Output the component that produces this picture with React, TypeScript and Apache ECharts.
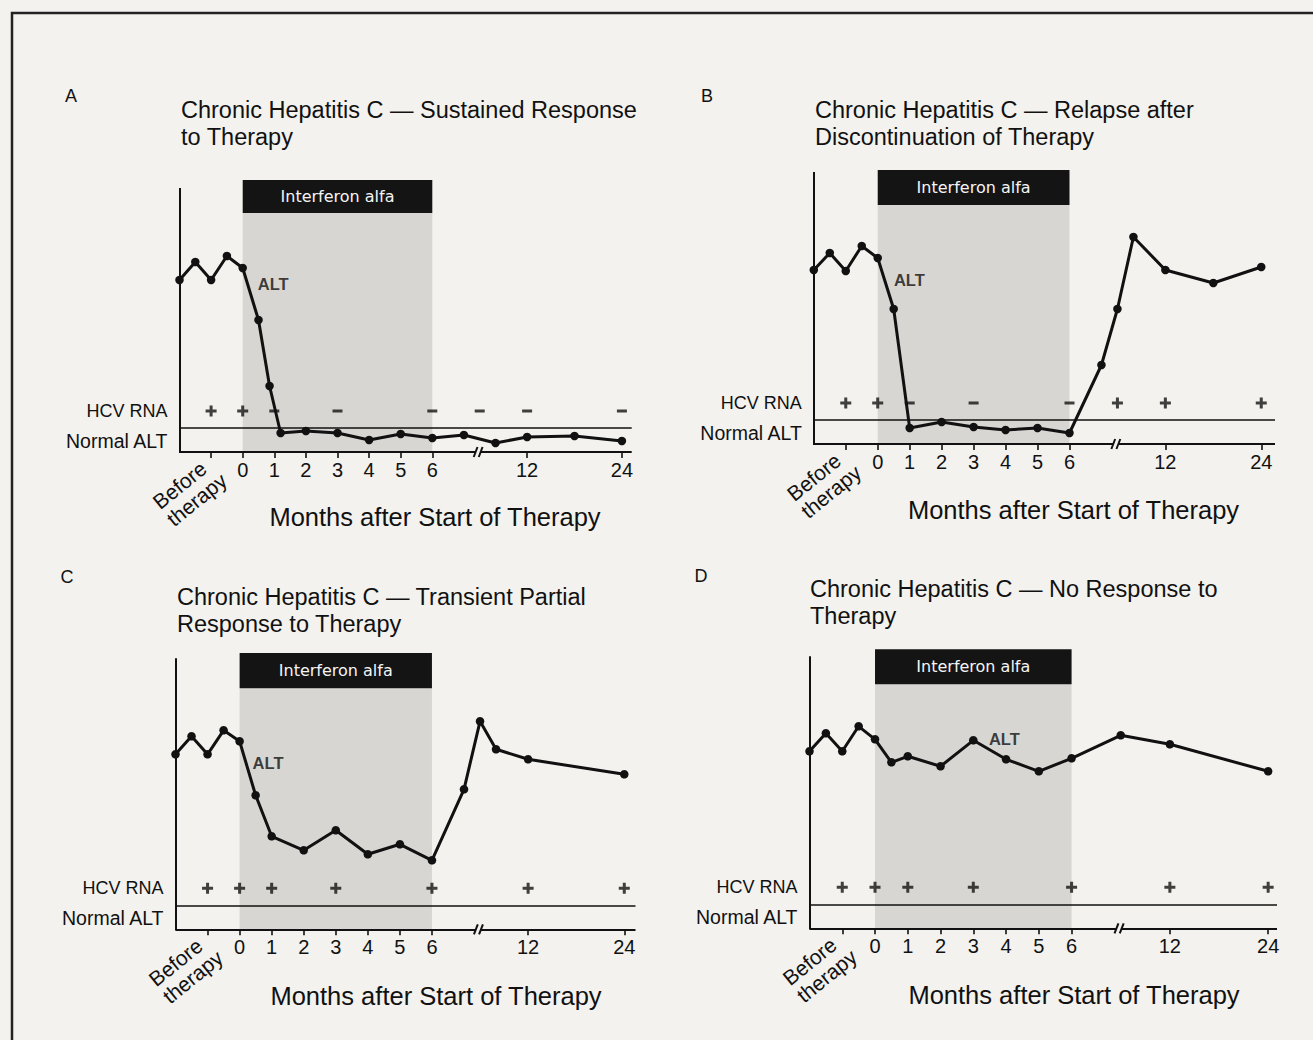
import React, { useEffect, useRef } from 'react';
import * as echarts from 'echarts';

// ---------- data ----------
const panelLetters = ['A', 'B', 'C', 'D'];
const titleLines = [
  ['Chronic Hepatitis C — Sustained Response', 'to Therapy'],
  ['Chronic Hepatitis C — Relapse after', 'Discontinuation of Therapy'],
  ['Chronic Hepatitis C — Transient Partial', 'Response to Therapy'],
  ['Chronic Hepatitis C — No Response to', 'Therapy'],
];
const tickValues = [0, 1, 2, 3, 4, 5, 6, 9, 12];
const tickLabels = ['0', '1', '2', '3', '4', '5', '6', '12', '24'];
const tickMarks = [-1, 0, 1, 2, 3, 4, 5, 6, 9, 12];
const beforeLabel = 'Before\ntherapy';
const xAxisTitle = 'Months after Start of Therapy';
const therapyLabel = 'Interferon alfa';
const therapyStart = 0;
const therapyEnd = 6;
const hcvLabel = 'HCV RNA';
const normalLabel = 'Normal ALT';
const normalAlt = 24;
const hcvRow = 41;
const normalLabelRow = 11.5;
const breakAt = 7.45;
const altLabel = 'ALT';

// ALT (arbitrary units) per panel
const altXA = [-2, -1.5, -1, -0.5, 0, 0.5, 0.85, 1.2, 2, 3, 4, 5, 6, 7, 8, 9, 10.5, 12];
const altYA = [172, 190, 172, 196, 184, 132, 66, 19, 21, 19, 12, 18, 14, 17, 9, 15, 16, 11];
const altXB = [-2, -1.5, -1, -0.5, 0, 0.5, 1, 2, 3, 4, 5, 6, 7, 7.5, 8, 9, 10.5, 12];
const altYB = [174, 191, 173, 198, 186, 135, 16, 22, 17, 14, 16, 11, 79, 135, 207, 174, 161, 177];
const altXC = [-2, -1.5, -1, -0.5, 0, 0.5, 1, 2, 3, 4, 5, 6, 7, 7.5, 8, 9, 12];
const altYC = [175, 193, 175, 199, 188, 134, 93, 79, 99, 75, 85, 69, 140, 208, 180, 170, 155];
const altXD = [-2, -1.5, -1, -0.5, 0, 0.5, 1, 2, 3, 4, 5, 6, 7.5, 9, 12];
const altYD = [177, 195, 177, 202, 189, 166, 172, 162, 188, 169, 157, 170, 193, 184, 157];

// HCV RNA results per panel
const hcvXA = [-1, 0, 1, 3, 6, 7.5, 9, 12];
const hcvSA = ['+', '+', '-', '-', '-', '-', '-', '-'];
const hcvXB = [-1, 0, 1, 3, 6, 7.5, 9, 12];
const hcvSB = ['+', '+', '-', '-', '-', '+', '+', '+'];
const hcvXC = [-1, 0, 1, 3, 6, 9, 12];
const hcvSC = ['+', '+', '+', '+', '+', '+', '+'];
const hcvXD = [-1, 0, 1, 3, 6, 9, 12];
const hcvSD = ['+', '+', '+', '+', '+', '+', '+'];

// position of the "ALT" annotation (data units)
const altLabelX = [0.46, 0.49, 0.39, 3.46];
const altLabelY = [168, 164, 166, 189];

const altX = [altXA, altXB, altXC, altXD];
const altY = [altYA, altYB, altYC, altYD];
const hcvX = [hcvXA, hcvXB, hcvXC, hcvXD];
const hcvS = [hcvSA, hcvSB, hcvSC, hcvSD];

// ---------- layout ----------
const layouts = [
  { left: 179.5, top: 180, width: 452.2, height: 272, xMax: 12.31, axisTop: 264, boxBottom: 239, titleX: 181, titleY: 110, letterX: 71, letterY: 96, monthsX: 435, monthsY: 517 },
  { left: 813.8, top: 170, width: 461.2, height: 274, xMax: 12.43, axisTop: 272, boxBottom: 239, titleX: 815, titleY: 110, letterX: 707, letterY: 96, monthsX: 1073.5, monthsY: 510 },
  { left: 175.5, top: 653, width: 460, height: 276.3, xMax: 12.35, axisTop: 271, boxBottom: 241, titleX: 177, titleY: 597, letterX: 67, letterY: 577, monthsX: 436, monthsY: 996 },
  { left: 809.5, top: 649.3, width: 467.5, height: 279, xMax: 12.27, axisTop: 272, boxBottom: 244, titleX: 810, titleY: 589, letterX: 701, letterY: 576, monthsX: 1074, monthsY: 995 },
];

const FONT = '"Liberation Sans", Arial, Helvetica, sans-serif';
const INK = '#111111';
const PAPER = '#f3f2ee';
const SHADE = 'rgba(140,140,140,0.27)';
const PLUS = 'path://M4,0H7V4H11V7H7V11H4V7H0V4H4Z';

function buildOption() {
  const grid: any[] = [];
  const xAxis: any[] = [];
  const yAxis: any[] = [];
  const series: any[] = [];
  const graphic: any[] = [];

  graphic.push({
    type: 'rect',
    shape: { x: 12, y: 13, width: 1400, height: 1100 },
    style: { fill: 'none', stroke: '#222', lineWidth: 2.5 },
    z: 100,
  });

  layouts.forEach((l, i) => {
    grid.push({ left: l.left, top: l.top, width: l.width, height: l.height, containLabel: false, outerBoundsMode: 'none' });
    const xi = i;
    xAxis.push({
      gridIndex: i,
      type: 'value',
      min: -2,
      max: l.xMax,
      axisLine: { show: false },
      splitLine: { show: false },
      axisTick: { show: true, customValues: tickMarks, length: 6, lineStyle: { color: INK, width: 1.6 } },
      axisLabel: {
        customValues: tickValues,
        formatter: (v: number) => {
          const k = tickValues.indexOf(v);
          return k >= 0 ? tickLabels[k] : '';
        },
        fontSize: 20,
        color: INK,
        margin: 8,
        fontFamily: FONT,
      },
    });
    yAxis.push({
      gridIndex: i,
      type: 'value',
      min: 0,
      max: l.height,
      axisLine: { show: false },
      axisTick: { show: false },
      splitLine: { show: false },
      axisLabel: {
        customValues: [normalLabelRow, hcvRow],
        formatter: (v: number) => (v === hcvRow ? '{h|' + hcvLabel + '}' : '{n|' + normalLabel + '}'),
        margin: 12,
        color: INK,
        fontFamily: FONT,
        rich: {
          h: { fontSize: 18, color: INK, fontFamily: FONT },
          n: { fontSize: 19.5, color: INK, fontFamily: FONT },
        },
      },
    });

    // shading + therapy box
    series.push({
      type: 'line',
      xAxisIndex: xi,
      yAxisIndex: i,
      data: [[therapyStart, 0]],
      symbol: 'none',
      lineStyle: { width: 0 },
      z: 1,
      silent: true,
      markArea: {
        silent: true,
        data: [
          [
            { xAxis: therapyStart, yAxis: 0, itemStyle: { color: SHADE }, label: { show: false } },
            { xAxis: therapyEnd, yAxis: l.boxBottom },
          ],
          [
            {
              xAxis: therapyStart,
              yAxis: l.boxBottom,
              itemStyle: { color: '#141414' },
              label: {
                show: true,
                position: 'inside',
                formatter: therapyLabel,
                color: '#f4f4f4',
                fontSize: 16,
                fontFamily: '"DejaVu Sans", sans-serif',
              },
            },
            { xAxis: therapyEnd, yAxis: l.height },
          ],
        ],
      },
    });

    // axis lines (with break)
    series.push({
      type: 'lines',
      coordinateSystem: 'cartesian2d',
      xAxisIndex: xi,
      yAxisIndex: i,
      polyline: false,
      silent: true,
      clip: false,
      z: 3,
      lineStyle: { color: INK, width: 2, opacity: 1, curveness: 0 },
      data: [
        { coords: [[-2, l.axisTop], [-2, -1]] },
        { coords: [[-2, 0], [breakAt - 0.08, 0]] },
        { coords: [[breakAt + 0.08, 0], [l.xMax, 0]] },
        { coords: [[breakAt - 0.14, -5], [breakAt - 0.02, 5]] },
        { coords: [[breakAt + 0.02, -5], [breakAt + 0.14, 5]] },
      ],
    });

    // HCV RNA results + normal ALT line
    series.push({
      type: 'scatter',
      xAxisIndex: xi,
      yAxisIndex: i,
      z: 4,
      silent: true,
      itemStyle: { color: INK },
      data: hcvX[i].map((x, k) => ({
        value: [x, hcvRow],
        symbol: hcvS[i][k] === '+' ? PLUS : 'rect',
        symbolSize: hcvS[i][k] === '+' ? 11 : [10, 3],
      })),
      markLine: {
        silent: true,
        symbol: ['none', 'none'],
        label: { show: false },
        lineStyle: { color: INK, width: 1.6, type: 'solid' },
        data: [{ yAxis: normalAlt }],
      },
    });

    // ALT line
    series.push({
      type: 'line',
      xAxisIndex: xi,
      yAxisIndex: i,
      z: 5,
      clip: false,
      silent: true,
      data: altX[i].map((x, k) => [x, altY[i][k]]),
      symbol: 'circle',
      symbolSize: 8.5,
      showAllSymbol: true,
      lineStyle: { color: INK, width: 3 },
      itemStyle: { color: INK },
    });

    // ALT annotation
    series.push({
      type: 'scatter',
      xAxisIndex: xi,
      yAxisIndex: i,
      z: 6,
      silent: true,
      symbolSize: 1,
      itemStyle: { color: 'transparent' },
      data: [[altLabelX[i], altLabelY[i]]],
      label: {
        show: true,
        position: 'right',
        distance: 0,
        formatter: altLabel,
        fontSize: 16.5,
        fontWeight: 'bold',
        color: INK,
        fontFamily: FONT,
      },
    });

    // texts
    graphic.push({
      type: 'text',
      x: l.letterX,
      y: l.letterY,
      style: { text: panelLetters[i], font: '18px ' + FONT, fill: INK, align: 'center', verticalAlign: 'middle' },
    });
    titleLines[i].forEach((t, k) => {
      graphic.push({
        type: 'text',
        x: l.titleX,
        y: l.titleY + k * 27,
        style: { text: t, font: '23.5px ' + FONT, fill: INK, align: 'left', verticalAlign: 'middle' },
      });
    });
    graphic.push({
      type: 'text',
      x: l.monthsX,
      y: l.monthsY,
      style: { text: xAxisTitle, font: '25.5px ' + FONT, fill: INK, align: 'center', verticalAlign: 'middle' },
    });
    // rotated "Before therapy" label
    graphic.push({
      type: 'text',
      x: l.left - 17,
      y: l.top + l.height + 61,
      rotation: (39 * Math.PI) / 180,
      style: {
        text: beforeLabel,
        font: '21px ' + FONT,
        fill: INK,
        align: 'left',
        verticalAlign: 'middle',
        lineHeight: 22,
      },
    });
  });

  return {
    animation: false,
    backgroundColor: PAPER,
    textStyle: { fontFamily: FONT },
    grid,
    xAxis,
    yAxis,
    series,
    graphic,
  };
}

export default function App() {
  const ref = useRef<HTMLDivElement>(null);
  useEffect(() => {
    if (!ref.current) return;
    const chart = echarts.init(ref.current, undefined, { renderer: 'svg' });
    chart.setOption(buildOption() as any);
    return () => chart.dispose();
  }, []);
  return (
    <div
      ref={ref}
      style={{ position: 'absolute', left: 0, top: 0, width: 1313, height: 1040 }}
    />
  );
}
